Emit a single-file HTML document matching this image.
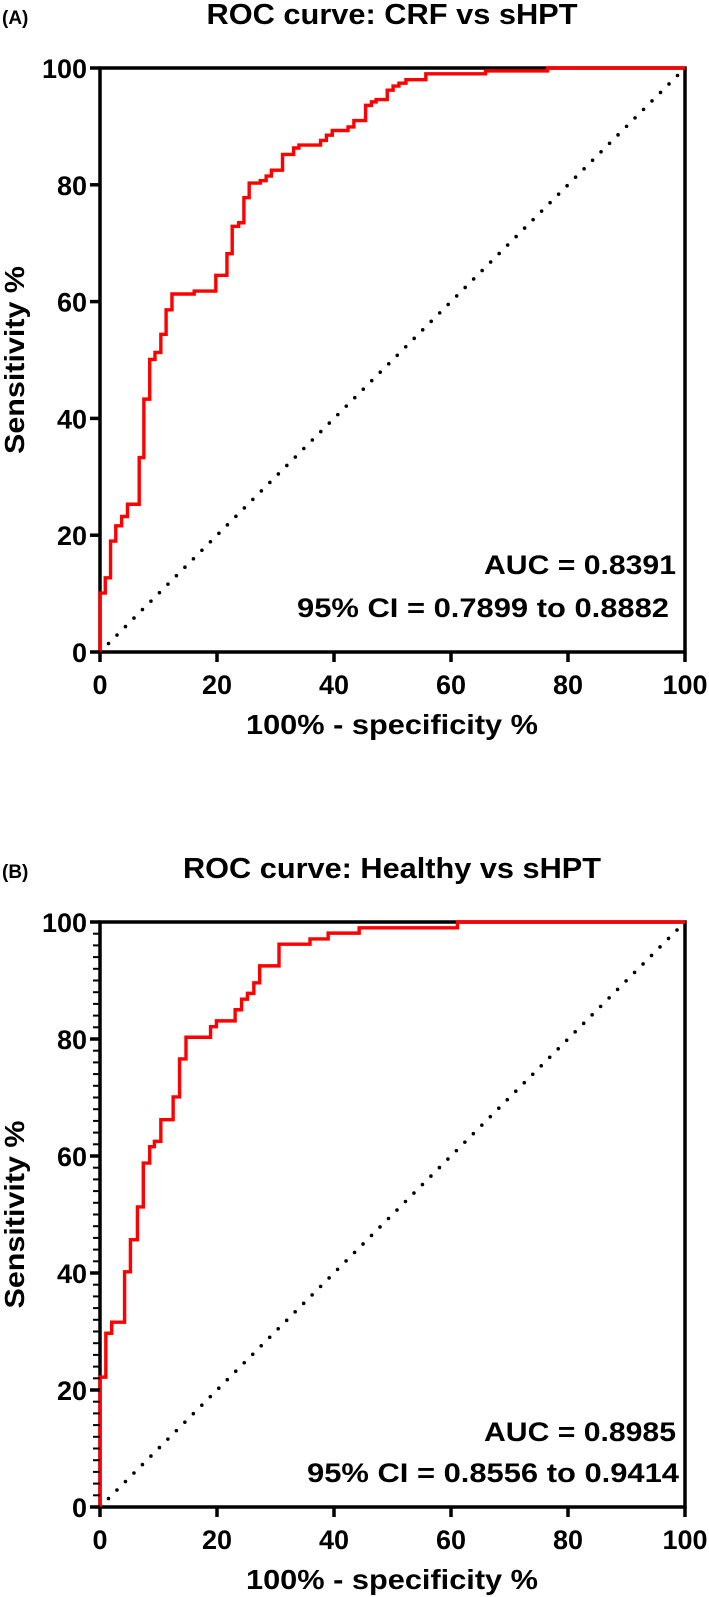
<!DOCTYPE html>
<html><head><meta charset="utf-8"><style>
html,body{margin:0;padding:0;background:#fff;}
svg{display:block;font-family:"Liberation Sans",Arial,sans-serif;font-weight:bold;}
</style></head><body>
<svg id="fig" width="709" height="1597" viewBox="0 0 709 1597"></svg>
<script>
// Panel A data (CRF vs sHPT)
const aFpr = [0,0,0.9,1.8,2.7,3.7,4.7,6.7,7.5,8.5,9.4,10.4,11.3,12.3,16.1,19.8,21.7,22.6,23.7,24.6,25.5,27.4,28.4,29.3,31.2,33.1,34.0,37.7,38.7,39.7,42.4,43.4,45.4,46.4,47.2,49.1,50.1,51.1,52.3,55.7,65.9,76.5,100];
const aTpr = [0,10.1,12.7,19.0,21.6,23.2,25.3,33.3,43.3,50.1,51.3,54.4,58.6,61.3,61.8,64.5,68.2,72.9,73.5,77.8,80.3,80.7,81.5,82.5,85.2,86.3,86.8,87.6,88.5,89.3,89.9,91.0,93.6,94.2,94.6,96.2,96.9,97.4,98.0,99.0,99.5,100,100];
// Panel B data (Healthy vs sHPT)
const bFpr = [0,0,1.0,2.0,4.2,5.2,6.4,7.4,8.5,9.3,10.4,12.5,13.6,14.7,18.9,19.9,23.1,24.2,25.2,26.3,27.3,30.6,35.9,39.0,44.3,61.1,100];
const bTpr = [0,22.2,29.7,31.6,40.2,45.7,51.3,58.8,61.6,62.5,66.2,70.1,76.6,80.3,82.1,83.1,85.0,86.8,87.8,89.6,92.5,96.2,97.1,98.1,99.0,100,100];
const xTicks = [0,20,40,60,80,100];
const yTicks = [0,20,40,60,80,100];

const NS = "http://www.w3.org/2000/svg";
const svg = document.getElementById("fig");
function el(tag, attrs, parent, text){
  const e = document.createElementNS(NS, tag);
  for (const k in attrs) e.setAttribute(k, attrs[k]);
  if (text !== undefined) e.textContent = text;
  (parent||svg).appendChild(e);
  return e;
}

function panel(cfg){
  const X0=100, X1=685, Y1=cfg.top, Y0=cfg.bottom;
  const sx = v => X0 + (X1-X0)*v/100;
  const sy = v => Y0 - (Y0-Y1)*v/100;
  const g = el("g", {});
  
  

  const lab = el("text", {x:2, y:Y1-44, "font-size":"19"}, g, cfg.letter);
  
  
  const t = el("text", {x:392, y:Y1-44, "font-size":"29", "text-anchor":"middle", textLength:cfg.titleLen, lengthAdjust:"spacingAndGlyphs"}, g, cfg.title);
  
  

  const d = el("line", {x1:sx(0), y1:sy(0), x2:sx(100), y2:sy(100), stroke:"#000", "stroke-width":"3.6", "stroke-linecap":"round", "stroke-dasharray":"0 12"}, g);
  
  

  const f = el("rect", {x:X0, y:Y1, width:X1-X0, height:Y0-Y1, fill:"none", stroke:"#000", "stroke-width":"3.5"}, g);
  
  

  let p = "M" + sx(cfg.fpr[0]) + "," + sy(cfg.tpr[0]);
  for (let i=1;i<cfg.fpr.length;i++){
    p += " L" + sx(cfg.fpr[i]) + "," + sy(cfg.tpr[i-1]);
    p += " L" + sx(cfg.fpr[i]) + "," + sy(cfg.tpr[i]);
  }
  const c = el("path", {d:p, fill:"none", stroke:"#f00", "stroke-width":"3.4", "stroke-linejoin":"miter"}, g);
  
  

  if (cfg.minor){
    for (let v=0; v<=100; v+=2){
      const m = el("line", {x1:X0-7, x2:X0, y1:sy(v), y2:sy(v), stroke:"#000", "stroke-width":"2"}, g);
      
      
    }
  }
  yTicks.forEach(v=>{
    const tk = el("line", {x1:X0-10, x2:X0, y1:sy(v), y2:sy(v), stroke:"#000", "stroke-width":"3.5"}, g);
    
    
    const tl = el("text", {x:X0-13, y:sy(v)+10, "font-size":"27", "text-anchor":"end"}, g, String(v));
    
    
  });
  xTicks.forEach(v=>{
    const tk = el("line", {x1:sx(v), x2:sx(v), y1:Y0, y2:Y0+10, stroke:"#000", "stroke-width":"3.5"}, g);
    
    
    const tl = el("text", {x:sx(v), y:Y0+42, "font-size":"27", "text-anchor":"middle"}, g, String(v));
    
    
  });
  const xt = el("text", {x:392, y:Y0+82, "font-size":"28", "text-anchor":"middle", textLength:"292", lengthAdjust:"spacingAndGlyphs"}, g, "100% - specificity %");
  
  
  const yc = (Y0+Y1)/2;
  const yt = el("text", {x:0, y:0, "font-size":"28", "text-anchor":"middle", textLength:"188", lengthAdjust:"spacingAndGlyphs", transform:"translate(24,"+yc+") rotate(-90)"}, g, "Sensitivity %");
  
  

  const a1 = el("text", {x:676, y:Y0-cfg.aucOff, "font-size":"27", "text-anchor":"end", textLength:"192", lengthAdjust:"spacingAndGlyphs"}, g, cfg.auc);
  
  
  const a2 = el("text", {x:cfg.ciRight, y:Y0-cfg.ciOff, "font-size":"27", "text-anchor":"end", textLength:"372", lengthAdjust:"spacingAndGlyphs"}, g, cfg.ci);
  
  
}

panel({id:"a", letter:"(A)", title:"ROC curve: CRF vs sHPT", titleLen:371, top:68, bottom:652, fpr:aFpr, tpr:aTpr, minor:false,
  auc:"AUC = 0.8391", ci:"95% CI = 0.7899 to 0.8882", aucOff:78, ciOff:35, ciRight:669});
panel({id:"b", letter:"(B)", title:"ROC curve: Healthy vs sHPT", titleLen:418, top:922, bottom:1507, fpr:bFpr, tpr:bTpr, minor:true,
  auc:"AUC = 0.8985", ci:"95% CI = 0.8556 to 0.9414", aucOff:66, ciOff:25, ciRight:679});
</script>
</body></html>
